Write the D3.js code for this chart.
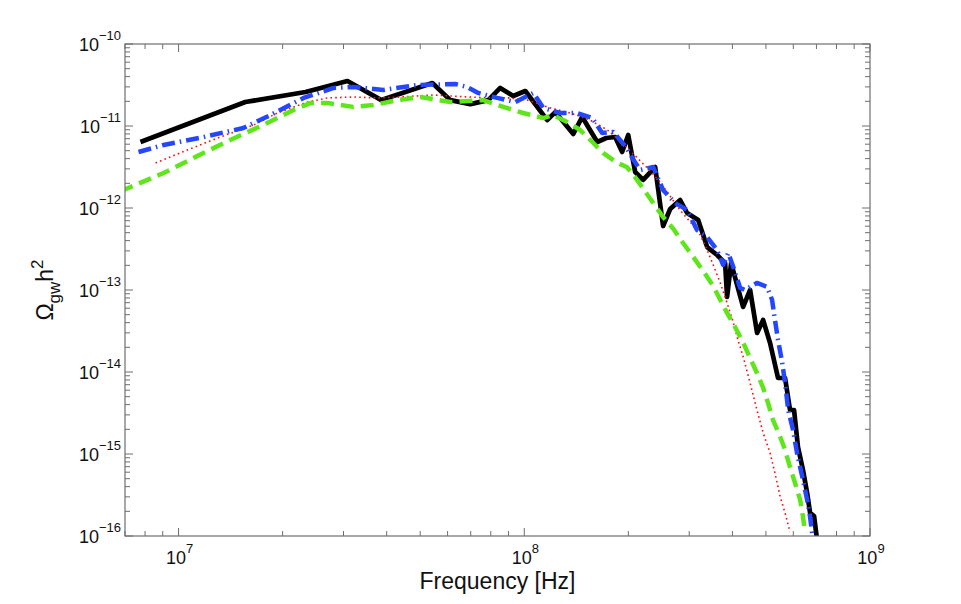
<!DOCTYPE html>
<html>
<head>
<meta charset="utf-8">
<script src="https://cdn.jsdelivr.net/npm/d3@7"></script>
<style>
  body { margin: 0; background: #fff; }
  text { font-family: "Liberation Sans", Arial, Helvetica, sans-serif; }
</style>
</head>
<body>
<div id="chart"></div>
<script>
// data: frequency [Hz] and Omega_gw h^2
var blackFreq = [7.76e6, 1.56e7, 2.33e7, 3.08e7, 3.86e7, 5.42e7, 6.11e7, 6.98e7, 7.87e7, 8.52e7,
  9.29e7, 1.007e8, 1.165e8, 1.229e8, 1.386e8, 1.471e8, 1.626e8, 1.726e8, 1.832e8, 1.919e8,
  1.998e8, 2.093e8, 2.207e8, 2.391e8, 2.521e8, 2.642e8, 2.824e8, 2.958e8, 3.184e8, 3.381e8,
  3.613e8, 3.81e8, 3.86e8, 3.966e8, 4.295e8, 4.50e8, 4.714e8, 4.907e8, 5.14e8, 5.42e8,
  5.68e8, 5.87e8, 6.03e8, 6.19e8, 6.40e8, 6.58e8, 6.71e8, 6.89e8, 7.03e8];
var blackOmega = [6.38e-12, 1.96e-11, 2.60e-11, 3.54e-11, 2.07e-11, 3.34e-11, 2.07e-11, 1.85e-11, 2.07e-11, 2.91e-11,
  2.32e-11, 2.67e-11, 1.18e-11, 1.48e-11, 7.99e-12, 1.29e-11, 6.38e-12, 7.14e-12, 7.34e-12, 4.82e-12,
  7.77e-12, 2.75e-12, 2.20e-12, 3.16e-12, 6.03e-13, 9.72e-13, 1.25e-12, 8.69e-13, 7.14e-13, 3.34e-13,
  2.67e-13, 2.13e-13, 8.22e-14, 2.13e-13, 6.21e-14, 1.0e-13, 2.99e-14, 4.31e-14, 2.26e-14, 8.45e-15,
  8.45e-15, 3.44e-15, 3.44e-15, 1.22e-15, 6.38e-16, 3.34e-16, 1.91e-16, 1.75e-16, 8.9e-17];

var blueFreq = [7.66e6, 9.05e6, 1.18e7, 1.54e7, 1.845e7, 2.30e7, 2.81e7, 3.20e7, 3.91e7, 4.91e7,
  6.32e7, 6.84e7, 7.36e7, 8.35e7, 9.42e7, 1.062e8, 1.135e8, 1.27e8, 1.42e8, 1.573e8,
  1.68e8, 1.808e8, 1.959e8, 2.08e8, 2.164e8, 2.36e8, 2.52e8, 2.73e8, 2.96e8, 3.16e8,
  3.38e8, 3.61e8, 3.76e8, 3.89e8, 4.07e8, 4.21e8, 4.35e8, 4.71e8, 5.04e8, 5.21e8,
  5.31e8, 5.42e8, 5.57e8, 5.68e8, 5.80e8, 5.99e8, 6.15e8, 6.40e8, 6.58e8, 6.71e8, 6.84e8];
var blueOmega = [4.82e-12, 5.87e-12, 7.34e-12, 9.46e-12, 1.36e-11, 2.20e-11, 2.91e-11, 2.99e-11, 2.75e-11, 3.16e-11,
  3.25e-11, 2.99e-11, 2.53e-11, 2.20e-11, 1.96e-11, 2.53e-11, 1.66e-11, 1.44e-11, 1.44e-11, 1.25e-11,
  8.22e-12, 8.45e-12, 5.70e-12, 3.74e-12, 2.91e-12, 3.16e-12, 1.66e-12, 1.15e-12, 9.46e-13, 5.39e-13,
  4.43e-13, 3.08e-13, 2.02e-13, 2.83e-13, 1.66e-13, 1.06e-13, 1.0e-13, 1.22e-13, 1.09e-13, 7.55e-14,
  4.31e-14, 2.46e-14, 1.32e-14, 7.34e-15, 3.44e-15, 1.96e-15, 1.03e-15, 4.82e-16, 2.75e-16, 1.71e-16, 8.9e-17];

var redFreq = [8.58e6, 1.06e7, 1.32e7, 1.65e7, 1.93e7, 2.36e7, 2.70e7, 3.20e7, 3.76e7, 4.38e7,
  5.46e7, 6.84e7, 8.14e7, 9.11e7, 1.02e8, 1.19e8, 1.36e8, 1.55e8, 1.74e8, 1.92e8,
  2.11e8, 2.30e8, 2.47e8, 2.64e8, 2.82e8, 3.02e8, 3.23e8, 3.38e8, 3.52e8, 3.69e8,
  3.86e8, 4.02e8, 4.15e8, 4.30e8, 4.50e8, 4.71e8, 4.91e8, 5.14e8, 5.31e8, 5.50e8,
  5.68e8, 5.87e8];
var redOmega = [3.54e-12, 5.10e-12, 7.34e-12, 1.03e-11, 1.44e-11, 1.96e-11, 2.20e-11, 2.26e-11, 2.20e-11, 2.26e-11,
  2.39e-11, 2.26e-11, 2.20e-11, 2.20e-11, 2.07e-11, 1.66e-11, 1.44e-11, 1.18e-11, 8.94e-12, 6.21e-12,
  4.19e-12, 2.91e-12, 2.08e-12, 1.40e-12, 9.46e-13, 6.75e-13, 4.69e-13, 3.08e-13, 2.02e-13, 1.22e-13,
  6.94e-14, 4.07e-14, 2.46e-14, 1.52e-14, 7.34e-15, 3.44e-15, 1.80e-15, 1.03e-15, 5.86e-16, 2.99e-16,
  1.91e-16, 1.12e-16];

var greenFreq = [6.8e6, 9.05e6, 1.18e7, 1.41e7, 1.76e7, 2.15e7, 2.41e7, 2.70e7, 3.20e7, 3.66e7,
  4.30e7, 5.01e7, 6.11e7, 7.61e7, 8.70e7, 9.93e7, 1.135e8, 1.21e8, 1.33e8, 1.45e8,
  1.573e8, 1.69e8, 1.86e8, 1.98e8, 2.07e8, 2.21e8, 2.36e8, 2.52e8, 2.70e8, 2.88e8,
  3.08e8, 3.29e8, 3.52e8, 3.69e8, 3.86e8, 4.07e8, 4.30e8, 4.50e8, 4.71e8, 4.91e8,
  5.07e8, 5.24e8, 5.50e8, 5.68e8, 5.87e8, 6.07e8, 6.28e8, 6.40e8, 6.49e8];
var greenOmega = [1.6e-12, 2.67e-12, 4.69e-12, 6.75e-12, 1.03e-11, 1.57e-11, 1.91e-11, 1.91e-11, 1.71e-11, 1.80e-11,
  2.07e-11, 2.26e-11, 1.96e-11, 2.07e-11, 1.71e-11, 1.44e-11, 1.25e-11, 1.36e-11, 1.12e-11, 8.94e-12,
  6.38e-12, 4.69e-12, 3.54e-12, 3.16e-12, 2.53e-12, 1.71e-12, 1.15e-12, 7.77e-13, 5.55e-13, 3.74e-13,
  2.53e-13, 1.71e-13, 1.12e-13, 7.55e-14, 5.25e-14, 3.54e-14, 2.26e-14, 1.48e-14, 9.72e-15, 6.38e-15,
  4.19e-15, 2.60e-15, 1.61e-15, 1.12e-15, 6.94e-16, 4.43e-16, 2.75e-16, 1.71e-16, 1.09e-16];

// axis ranges and tick labels
var xDomain = [7e6, 1e9];
var yDomain = [1e-16, 1e-10];
var xTickExp = [7, 8, 9];
var yTickExp = [-16, -15, -14, -13, -12, -11, -10];

// svg area
var svgWidth = 961;
var svgHeight = 604;
var margin = { top: 44, right: 91, bottom: 68, left: 125 };
var width = svgWidth - margin.left - margin.right;
var height = svgHeight - margin.top - margin.bottom;

var svg = d3.select("#chart")
  .append("svg")
  .attr("width", svgWidth)
  .attr("height", svgHeight);

var chartGroup = svg.append("g")
  .attr("transform", `translate(${margin.left}, ${margin.top})`);

var xLogScale = d3.scaleLog().domain(xDomain).range([0, width]);
var yLogScale = d3.scaleLog().domain(yDomain).range([height, 0]);

// clip the curves to the box
svg.append("defs").append("clipPath")
  .attr("id", "plotClip")
  .append("rect")
  .attr("width", width)
  .attr("height", height);

var axisColor = "#6e6e6e";

// minor + major ticks, pointing inward on all four sides
function minorTicks(domain) {
  var out = [];
  var lo = Math.floor(Math.log10(domain[0]));
  var hi = Math.ceil(Math.log10(domain[1]));
  for (var e = lo; e < hi; e++) {
    for (var m = 1; m < 10; m++) {
      var v = m * Math.pow(10, e);
      if (v >= domain[0] * 0.999 && v <= domain[1] * 1.001) out.push({ v: v, major: m === 1 });
    }
  }
  if (Math.abs(Math.log10(domain[1]) % 1) < 1e-9) out.push({ v: domain[1], major: true });
  return out;
}

var xTicks = minorTicks(xDomain);
var yTicks = minorTicks(yDomain);
var tickGroup = chartGroup.append("g")
  .attr("stroke", axisColor)
  .attr("stroke-width", 1);

xTicks.forEach(function(t) {
  var x = xLogScale(t.v);
  var len = t.major ? 8 : 5;
  tickGroup.append("line").attr("x1", x).attr("x2", x).attr("y1", height).attr("y2", height - len);
  tickGroup.append("line").attr("x1", x).attr("x2", x).attr("y1", 0).attr("y2", len);
});
yTicks.forEach(function(t) {
  var y = yLogScale(t.v);
  var len = t.major ? 8 : 5;
  tickGroup.append("line").attr("x1", 0).attr("x2", len).attr("y1", y).attr("y2", y);
  tickGroup.append("line").attr("x1", width).attr("x2", width - len).attr("y1", y).attr("y2", y);
});

// the curves
var line = d3.line()
  .x(d => xLogScale(d[0]))
  .y(d => yLogScale(d[1]));

var series = [
  { f: blackFreq, o: blackOmega, color: "#000000", w: 4.7, dash: null },
  { f: redFreq, o: redOmega, color: "#ff0d0d", w: 1.6, dash: "1.6,3.2" },
  { f: greenFreq, o: greenOmega, color: "#5fe61a", w: 4.5, dash: "13,7" },
  { f: blueFreq, o: blueOmega, color: "#2446ff", w: 4.5, dash: "13,5,1.5,5" }
];

var curveGroup = chartGroup.append("g").attr("clip-path", "url(#plotClip)");
series.forEach(function(s) {
  var pts = s.f.map((f, i) => [f, s.o[i]]);
  curveGroup.append("path")
    .datum(pts)
    .attr("d", line)
    .attr("fill", "none")
    .attr("stroke", s.color)
    .attr("stroke-width", s.w)
    .attr("stroke-linejoin", "round")
    .attr("stroke-dasharray", s.dash);
});

// box
chartGroup.append("rect")
  .attr("width", width)
  .attr("height", height)
  .attr("fill", "none")
  .attr("stroke", axisColor)
  .attr("stroke-width", 1.2);

// tick labels as 10^n
xTickExp.forEach(function(e) {
  var t = chartGroup.append("text")
    .attr("x", xLogScale(Math.pow(10, e)) + 1)
    .attr("y", height + 28)
    .attr("text-anchor", "middle")
    .attr("font-size", 18)
    .attr("fill", "#111");
  t.append("tspan").text("10");
  t.append("tspan").attr("dy", -11).attr("font-size", 13).text(e);
});
yTickExp.forEach(function(e) {
  var t = chartGroup.append("text")
    .attr("x", -4)
    .attr("y", yLogScale(Math.pow(10, e)) + 7)
    .attr("text-anchor", "end")
    .attr("font-size", 18)
    .attr("fill", "#111");
  t.append("tspan").text("10");
  t.append("tspan").attr("dy", -11).attr("font-size", 13).text("\u2212" + Math.abs(e));
});

// axis labels
chartGroup.append("text")
  .attr("x", width / 2)
  .attr("y", height + 53)
  .attr("text-anchor", "middle")
  .attr("font-size", 23)
  .attr("fill", "#111")
  .text("Frequency [Hz]");

var yLabel = chartGroup.append("text")
  .attr("transform", `translate(${53 - margin.left}, ${height / 2}) rotate(-90)`)
  .attr("text-anchor", "middle")
  .attr("font-size", 23)
  .attr("fill", "#111");
yLabel.append("tspan").text("\u03A9");
yLabel.append("tspan").attr("dy", 7).attr("font-size", 17).text("gw");
yLabel.append("tspan").attr("dy", -7).text("h");
yLabel.append("tspan").attr("dy", -10).attr("font-size", 17).text("2");
</script>
</body>
</html>
